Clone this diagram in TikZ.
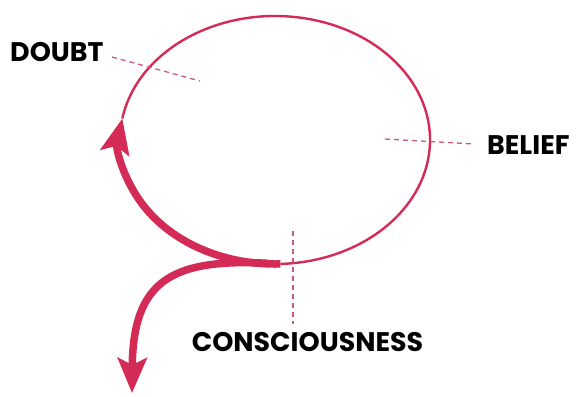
\documentclass[tikz,border=0pt]{standalone}
\usepackage{fontspec}
\setmainfont{Poppins}
\usetikzlibrary{arrows.meta}
\definecolor{crim}{RGB}{212,43,86}
\definecolor{dashpink}{RGB}{200,90,130}
\tikzset{
  lbl/.style={font=\fontsize{27}{27}\selectfont\bfseries, inner sep=0pt, text=black},
  guide/.style={draw=dashpink, line width=1.3bp, dash pattern=on 5bp off 4bp},
  thin/.style={draw=crim, line width=2.4bp},
  thick/.style={draw=crim, line width=7.5bp, line cap=butt},
  bigtip/.style={-{Stealth[length=35bp,width=29bp,inset=7bp]}}
}
\begin{document}
\begin{tikzpicture}[x=1bp,y=-1bp]
\useasboundingbox (0,0) rectangle (578,396);
% centre of the loop
\coordinate (c) at (275,140);
% thin part of the loop
\draw[thin] (c) ++(190:155 and 124) arc[start angle=190, end angle=448, x radius=155, y radius=124];
% thick part ending in an arrow up
\draw[thick, bigtip] (c) ++(88:155 and 124) coordinate (j) arc[start angle=88, end angle=190, x radius=155, y radius=124] coordinate (up);
% lower branch
\coordinate (down) at (132,393);
\draw[thick, bigtip] (j) ++(-12,-0.6) .. controls (170,258) and (133,282) .. (down);
% dashed guides
\draw[guide] (112,57) -- (200,81);
\draw[guide] (385,139) -- (474,144);
\draw[guide] (293,231) -- (293,324);
% labels
\node[lbl, anchor=west] (doubt) at (10,52) {DOUBT};
\node[lbl, anchor=west] (belief) at (487,145.5) {BELIEF};
\node[lbl] (cons) at (307.5,342.5) {CONSCIOUSNESS};
\end{tikzpicture}
\end{document}
